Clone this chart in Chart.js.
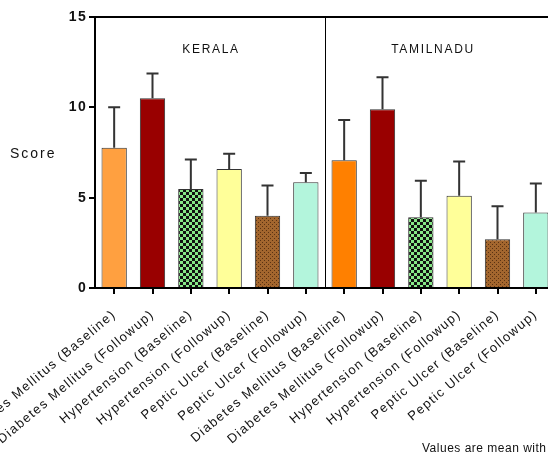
<!DOCTYPE html>
<html>
<head>
<meta charset="utf-8">
<script src="https://cdn.jsdelivr.net/npm/chart.js@4"></script>
<style>
  html, body { margin: 0; padding: 0; overflow: hidden; background: #fff; }
  canvas { display: block; }
</style>
</head>
<body>
<canvas id="scoreChart" width="580" height="457"></canvas>
<script>
const groups = ['KERALA', 'TAMILNADU'];
const conditions = [
  'Diabetes Mellitus (Baseline)',
  'Diabetes Mellitus (Followup)',
  'Hypertension (Baseline)',
  'Hypertension (Followup)',
  'Peptic Ulcer (Baseline)',
  'Peptic Ulcer (Followup)'
];
const keralaMean = [7.76, 10.5, 5.48, 6.59, 4.0, 5.85];
const keralaSD = [2.24, 1.37, 1.63, 0.84, 1.67, 0.52];
const tamilMean = [7.07, 9.89, 3.91, 5.11, 2.7, 4.18];
const tamilSD = [2.23, 1.78, 2.03, 1.89, 1.82, 1.6];
const yTicks = [0, 5, 10, 15];

const labels = conditions.concat(conditions);
const means = keralaMean.concat(tamilMean);
const sds = keralaSD.concat(tamilSD);

function makePattern(size, bg, fg, cells) {
  const c = document.createElement('canvas');
  c.width = size;
  c.height = size;
  const g = c.getContext('2d');
  g.fillStyle = bg;
  g.fillRect(0, 0, size, size);
  g.fillStyle = fg;
  cells.forEach(r => g.fillRect(r[0], r[1], r[2], r[3]));
  return g.createPattern(c, 'repeat');
}

const checker = makePattern(6, '#86e886', '#111', [[0, 0, 3, 3], [3, 3, 3, 3]]);
const brownDots = makePattern(4, '#a3662e', '#5a3212', [[0, 0, 1, 1], [2, 2, 1, 1]]);

const barColors = [
  '#ffa040', '#990000', checker, '#ffff99', brownDots, '#b3f5dc',
  '#ff8000', '#990000', checker, '#ffff99', brownDots, '#b3f5dc'
];

const spacing = '1.3px';

const decor = {
  id: 'decor',
  beforeUpdate(chart) { chart.ctx.letterSpacing = spacing; },
  beforeDraw(chart) { chart.ctx.letterSpacing = spacing; },
  afterDatasetsDraw(chart) {
    const ctx = chart.ctx;
    const y = chart.scales.y;
    const bars = chart.getDatasetMeta(0).data;
    ctx.save();
    ctx.strokeStyle = '#333';
    ctx.lineWidth = 2;
    bars.forEach((bar, i) => {
      const top = y.getPixelForValue(means[i] + sds[i]);
      ctx.beginPath();
      ctx.moveTo(bar.x, bar.y);
      ctx.lineTo(bar.x, top);
      ctx.moveTo(bar.x - 6, top);
      ctx.lineTo(bar.x + 6, top);
      ctx.stroke();
    });
    ctx.restore();
  },
  afterDraw(chart) {
    const ctx = chart.ctx;
    const area = chart.chartArea;
    const x = chart.scales.x;
    const y = chart.scales.y;
    ctx.save();
    // top frame line
    ctx.strokeStyle = '#000';
    ctx.lineWidth = 2;
    ctx.beginPath();
    ctx.moveTo(area.left - 1, area.top);
    ctx.lineTo(area.right, area.top);
    ctx.stroke();
    // divider between the two states
    const mid = (x.getPixelForValue(5) + x.getPixelForValue(6)) / 2;
    ctx.lineWidth = 1;
    ctx.beginPath();
    ctx.moveTo(mid + 0.5, area.top);
    ctx.lineTo(mid + 0.5, area.bottom);
    ctx.stroke();

    ctx.fillStyle = '#111';
    ctx.textBaseline = 'middle';
    ctx.textAlign = 'center';
    ctx.letterSpacing = '1.7px';
    ctx.font = '12px Arial, "Liberation Sans", sans-serif';
    const gy = area.top + 33;
    ctx.fillText(groups[0], (x.getPixelForValue(0) + x.getPixelForValue(5)) / 2 + 1, gy);
    ctx.fillText(groups[1], (x.getPixelForValue(6) + x.getPixelForValue(11)) / 2 - 7, gy);

    ctx.textAlign = 'left';
    ctx.letterSpacing = '2px';
    ctx.font = '14px Arial, "Liberation Sans", sans-serif';
    ctx.fillText('Score', 10, y.getPixelForValue(7.5) + 2);

    ctx.letterSpacing = '0.5px';
    ctx.font = '12px Arial, "Liberation Sans", sans-serif';
    ctx.fillText('Values are mean with SD', 422, 449);
    ctx.restore();
  }
};

new Chart(document.getElementById('scoreChart'), {
  type: 'bar',
  data: {
    labels: labels,
    datasets: [{
      data: means,
      backgroundColor: barColors,
      borderColor: '#333',
      borderWidth: 1,
      barPercentage: 0.66,
      categoryPercentage: 1
    }]
  },
  options: {
    responsive: false,
    animation: false,
    layout: { padding: { left: 0, top: 17, right: 25, bottom: 0 } },
    plugins: {
      legend: { display: false },
      tooltip: { enabled: false }
    },
    scales: {
      x: {
        grid: { drawOnChartArea: false, offset: false, color: '#000', lineWidth: 2, tickLength: 6 },
        border: { color: '#000', width: 2 },
        ticks: {
          color: '#111',
          font: { family: 'Arial, "Liberation Sans", sans-serif', size: 13 },
          minRotation: 40,
          maxRotation: 40,
          autoSkip: false,
          padding: 13
        },
        afterFit(s) { s.height = 169; s.paddingLeft = 0; s.paddingRight = 0; }
      },
      y: {
        min: 0,
        max: 15,
        afterBuildTicks(s) { s.ticks = yTicks.map(v => ({ value: v })); },
        grid: { drawOnChartArea: false, color: '#000', lineWidth: 2, tickLength: 6 },
        border: { color: '#000', width: 2 },
        ticks: {
          color: '#111',
          font: { family: 'Arial, "Liberation Sans", sans-serif', size: 14, weight: 'bold' },
          padding: 2
        },
        afterFit(s) { s.width = 95; s.paddingTop = 0; s.paddingBottom = 0; }
      }
    }
  },
  plugins: [decor]
});
</script>
</body>
</html>
